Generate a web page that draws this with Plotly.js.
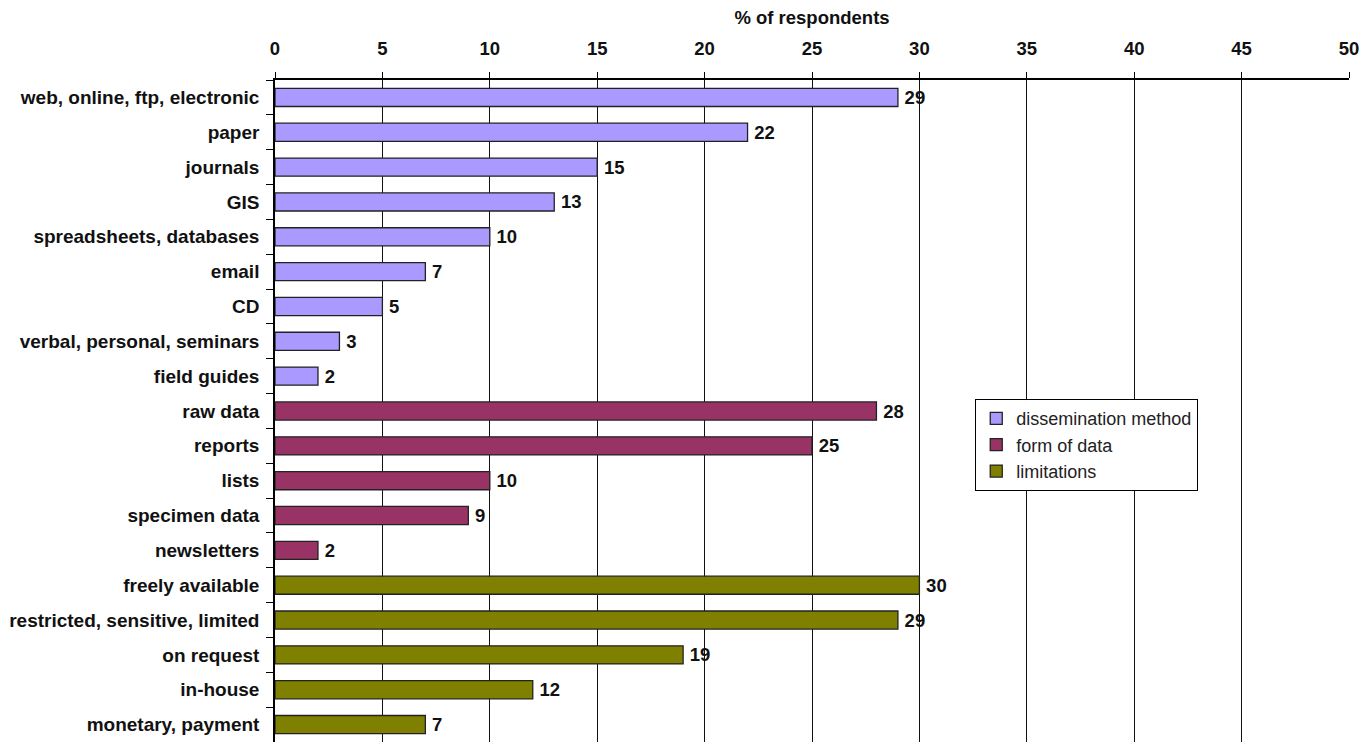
<!DOCTYPE html>
<html><head><meta charset="utf-8">
<script src="https://cdn.plot.ly/plotly-3.0.1.min.js"></script>
<style>html,body{margin:0;padding:0;background:#fff}#chart{width:1360px;height:742px}</style>
</head><body><div id="chart"></div>
<script>
const dissCats = ["web, online, ftp, electronic","paper","journals","GIS","spreadsheets, databases","email","CD","verbal, personal, seminars","field guides"];
const dissVals = [29,22,15,13,10,7,5,3,2];
const formCats = ["raw data","reports","lists","specimen data","newsletters"];
const formVals = [28,25,10,9,2];
const limCats = ["freely available","restricted, sensitive, limited","on request","in-house","monetary, payment"];
const limVals = [30,29,19,12,7];
const seriesNames = ["dissemination method","form of data","limitations"];
const colors = ["#AA99FF","#993366","#808000"];
const allCats = dissCats.concat(formCats, limCats);

const font = {family:"Liberation Sans, Arial, sans-serif", color:"#000"};
function mk(cats, vals, name, color){
  return {type:"bar", orientation:"h", y:cats, x:vals, name:name,
    marker:{color:color, line:{color:"#222", width:1.3}},
    text:vals.map(v => "\u2009" + v), textposition:"outside", cliponaxis:false, constraintext:"none",
    textfont:{family:font.family, size:18.5, color:"#111", weight:"bold"},
    hoverinfo:"x+y"};
}
const data = [mk(dissCats,dissVals,seriesNames[0],colors[0]), mk(formCats,formVals,seriesNames[1],colors[1]), mk(limCats,limVals,seriesNames[2],colors[2])];
const layout = {
  width:1360, height:742,
  margin:{l:275, r:11, t:80, b:0},
  paper_bgcolor:"#fff", plot_bgcolor:"#fff",
  bargap:0.48, barmode:"overlay",
  font:font,
  xaxis:{side:"top", range:[0,50], dtick:5, tick0:0, showgrid:true, gridcolor:"#111", gridwidth:1,
    showline:true, linecolor:"#000", linewidth:1.5, ticks:"outside", ticklen:6, tickcolor:"#000",
    zeroline:false, tickfont:{size:18.5, weight:"bold", color:"#111"}, ticklabelstandoff:10,
    title:{text:"% of respondents", font:{size:18.5, weight:"bold", color:"#111"}, standoff:8}},
  yaxis:{type:"category", categoryorder:"array", categoryarray:allCats, autorange:"reversed",
    showline:true, linecolor:"#000", linewidth:1.5, ticks:"outside", tickson:"boundaries", ticklen:7, tickcolor:"#000",
    showgrid:false, tickfont:{size:19, weight:"bold", color:"#111"}, ticklabelstandoff:10},
  legend:{x:0.652, y:0.518, xanchor:"left", yanchor:"top", bordercolor:"#000", borderwidth:1, bgcolor:"#fff",
    font:{size:18, color:"#222"}, traceorder:"normal", tracegroupgap:0, itemwidth:30},
  showlegend:true
};
Plotly.newPlot("chart", data, layout, {displayModeBar:false});
</script></body></html>
